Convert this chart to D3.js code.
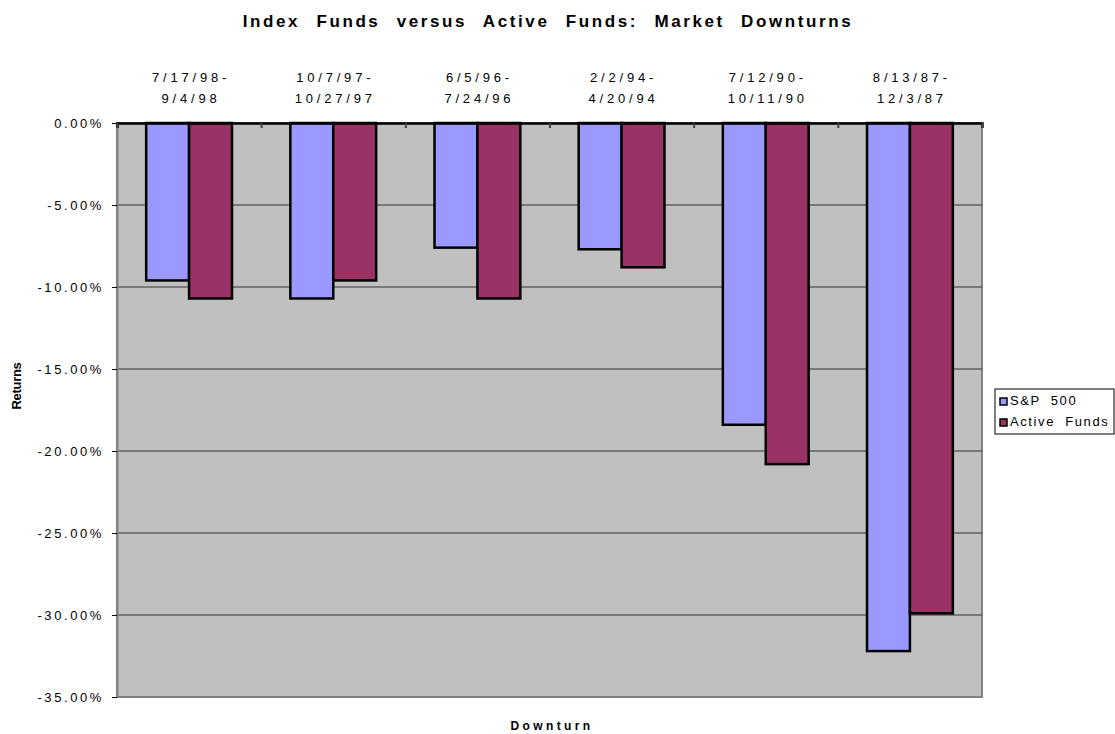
<!DOCTYPE html>
<html>
<head>
<meta charset="utf-8">
<script src="https://cdn.jsdelivr.net/npm/d3@7"></script>
<style>
  body { margin: 0; background: #fff; }
  text { font-family: Arial, "Liberation Sans", sans-serif; fill: #000; }
</style>
</head>
<body>
<svg id="chart"></svg>
<script>
// chart data
const periodStart = ["7/17/98-", "10/7/97-", "6/5/96-", "2/2/94-", "7/12/90-", "8/13/87-"];
const periodEnd = ["9/4/98", "10/27/97", "7/24/96", "4/20/94", "10/11/90", "12/3/87"];
const seriesNames = ["S&P 500", "Active Funds"];
const sp500 = [-9.6, -10.7, -7.6, -7.7, -18.4, -32.2];
const activeFunds = [-10.7, -9.6, -10.7, -8.8, -20.8, -29.9];
const yTicks = [0, -5, -10, -15, -20, -25, -30, -35];

const colors = ["#9999FF", "#993366"];

const width = 1115, height = 734;
const plot = { left: 117, right: 982, top: 123, bottom: 697 };

const svg = d3.select("#chart").attr("width", width).attr("height", height);

const xscale = d3.scaleBand()
    .domain(d3.range(periodStart.length))
    .range([plot.left, plot.right]);

const xinner = d3.scaleBand()
    .domain([0, 1])
    .range([0, xscale.bandwidth()])
    .paddingOuter(0.68);

const yscale = d3.scaleLinear()
    .domain([0, -35])
    .range([plot.top, plot.bottom]);

// plot background
svg.append("rect")
    .attr("x", plot.left).attr("y", plot.top)
    .attr("width", plot.right - plot.left)
    .attr("height", plot.bottom - plot.top)
    .attr("fill", "#C0C0C0")
    .attr("stroke", "#808080")
    .attr("stroke-width", 2);

// gridlines
svg.append("g")
    .selectAll("line")
    .data(yTicks.filter(d => d !== 0 && d !== -35))
    .join("line")
    .attr("x1", plot.left).attr("x2", plot.right)
    .attr("y1", d => yscale(d)).attr("y2", d => yscale(d))
    .attr("stroke", "#333")
    .attr("stroke-width", 1);

// y axis
const yaxis = d3.axisLeft(yscale)
    .tickValues(yTicks)
    .tickSize(5)
    .tickSizeOuter(0)
    .tickFormat(d => (d < 0 ? "-" : "") + Math.abs(d).toFixed(2) + "%");

const ygroup = svg.append("g")
    .attr("transform", `translate(${plot.left},0)`)
    .call(yaxis);
ygroup.select(".domain").attr("stroke", "#808080").attr("stroke-width", 2);
ygroup.selectAll(".tick line").attr("stroke", "#000");
ygroup.selectAll(".tick text")
    .attr("x", -13)
    .style("font-size", "13px")
    .style("letter-spacing", "2.6px")
    .style("font-family", "Arial, 'Liberation Sans', sans-serif");

// bars
const rows = periodStart.map((p, i) => [sp500[i], activeFunds[i]]);
const groups = svg.append("g")
    .selectAll("g")
    .data(rows)
    .join("g")
    .attr("transform", (d, i) => `translate(${xscale(i)},0)`);

groups.selectAll("rect")
    .data(d => d.map((v, k) => ({ v, k })))
    .join("rect")
    .attr("x", d => xinner(d.k))
    .attr("y", yscale(0))
    .attr("width", xinner.bandwidth())
    .attr("height", d => yscale(d.v) - yscale(0))
    .attr("fill", d => colors[d.k])
    .attr("stroke", "#000")
    .attr("stroke-width", 2.5);

// x axis at zero line (labels above)
const xaxis = d3.axisTop(d3.scaleLinear().domain([0, periodStart.length]).range([plot.left, plot.right]))
    .ticks(periodStart.length)
    .tickSize(-5)
    .tickFormat("");
const xgroup = svg.append("g")
    .attr("transform", `translate(0,${yscale(0)})`)
    .call(xaxis);
xgroup.select(".domain").attr("stroke", "#000").attr("stroke-width", 2.5);
xgroup.selectAll(".tick line").attr("stroke", "#444").attr("stroke-width", 2);

const cats = svg.append("g")
    .selectAll("text")
    .data(periodStart)
    .join("text")
    .attr("text-anchor", "middle")
    .style("font-size", "13px")
    .style("letter-spacing", "3.8px");
cats.append("tspan").attr("x", (d, i) => xscale(i) + xscale.bandwidth() / 2 + 2).attr("y", 82).text(d => d);
cats.append("tspan").attr("x", (d, i) => xscale(i) + xscale.bandwidth() / 2 + 2).attr("y", 103).text((d, i) => periodEnd[i]);

// title
svg.append("text")
    .attr("x", 548).attr("y", 27)
    .attr("text-anchor", "middle")
    .style("font-size", "17px")
    .style("font-weight", "bold")
    .style("word-spacing", "9px")
    .style("letter-spacing", "2.6px")
    .text("Index Funds versus Active Funds: Market Downturns");

// axis titles
svg.append("text")
    .attr("x", 552).attr("y", 730)
    .attr("text-anchor", "middle")
    .style("font-size", "12px")
    .style("font-weight", "bold")
    .style("letter-spacing", "3.4px")
    .text("Downturn");

svg.append("text")
    .attr("transform", "translate(21,386) rotate(-90)")
    .attr("text-anchor", "middle")
    .style("font-size", "13px")
    .style("font-weight", "bold")
    .style("letter-spacing", "-0.3px")
    .text("Returns");

// legend
const legend = svg.append("g").attr("transform", "translate(995,389)");
legend.append("rect")
    .attr("width", 119).attr("height", 45)
    .attr("fill", "#fff")
    .attr("stroke", "#000");
const items = legend.selectAll("g.item")
    .data(seriesNames)
    .join("g")
    .attr("class", "item")
    .attr("transform", (d, i) => `translate(5,${16 + i * 21})`);
items.append("rect")
    .attr("x", 0).attr("y", -7)
    .attr("width", 7).attr("height", 7)
    .attr("fill", (d, i) => colors[i])
    .attr("stroke", "#000")
    .attr("stroke-width", 1.5);
items.append("text")
    .attr("x", 10).attr("y", 0)
    .style("font-size", "13px")
    .style("letter-spacing", "1.6px")
    .style("word-spacing", "5px")
    .text(d => d);
</script>
</body>
</html>
